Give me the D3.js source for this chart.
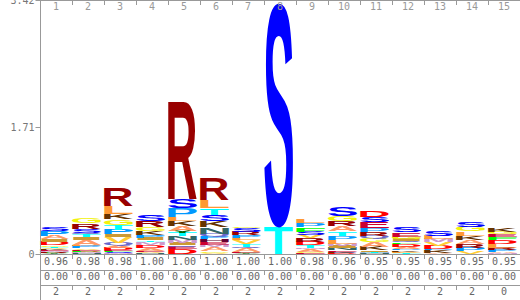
<!DOCTYPE html>
<html>
<head>
<meta charset="utf-8">
<script src="https://cdn.jsdelivr.net/npm/d3@7"></script>
<style>
  body { margin: 0; background: #fff; }
  svg { display: block; }
</style>
</head>
<body>
<svg id="logo" width="520" height="300"></svg>
<script>
// column numbers, the three rows under the logo, y-axis ticks
const positions = d3.range(1, 16);
const occupancy = ["0.96","0.98","0.98","1.00","1.00","1.00","1.00","1.00","0.98","0.96","0.95","0.95","0.95","0.95","0.95"];
const insertProb = ["0.00","0.00","0.00","0.00","0.00","0.00","0.00","0.00","0.00","0.00","0.00","0.00","0.00","0.00","0.00"];
const insertLen = ["2","2","2","2","2","2","2","2","2","2","2","2","2","2","0"];
const yTicks = [0, 1.71, 3.42];
const maxBits = 3.42;

// letter heights in bits, listed top of stack first
const col01 = [["S",.054],["P",.060],["A",.047],["I",.036],["D",.045],["G",.020],["T",.013],["V",.016],["K",.013],["E",.016],["M",.013],["R",.013],["F",.008],["Y",.007]];
const col02 = [["G",.075],["R",.067],["S",.055],["Q",.020],["T",.040],["I",.033],["A",.070],["L",.020],["P",.025],["V",.020],["E",.015],["F",.013],["D",.010],["M",.012],["N",.010]];
const col03 = [["R",.242],["L",.108],["K",.074],["G",.074],["T",.067],["P",.060],["I",.040],["V",.081],["Q",.034],["A",.027],["D",.027],["E",.020],["F",.013],["S",.013],["M",.013]];
const col04 = [["S",.090],["R",.081],["G",.054],["K",.054],["P",.040],["I",.036],["T",.020],["M",.040],["D",.040],["A",.040],["E",.020],["V",.013],["N",.011]];
const col05 = [["R",1.306],["S",.121],["P",.117],["L",.054],["K",.067],["A",.067],["Y",.027],["T",.044],["N",.044],["M",.044],["I",.034],["Q",.027],["E",.027],["D",.063]];
const col06 = [["R",.283],["L",.108],["T",.090],["S",.090],["K",.081],["N",.081],["Q",.044],["P",.032],["H",.040],["E",.040],["M",.027],["A",.054],["G",.020],["V",.019]];
const col07 = [["G",.023],["S",.047],["R",.044],["P",.040],["L",.036],["V",.054],["T",.031],["Q",.020],["A",.054],["E",.009],["F",.007],["Y",.007]];
const col08 = [["S",3.02],["T",.357]];
const col09 = [["L",.058],["P",.054],["F",.058],["S",.044],["V",.044],["R",.044],["D",.044],["T",.036],["M",.020],["A",.040],["G",.020],["E",.007]];
const col10 = [["S",.121],["G",.077],["R",.067],["A",.067],["T",.058],["P",.054],["L",.054],["M",.034],["I",.027],["N",.027],["E",.020],["K",.013],["Q",.011],["D",.007]];
const col11 = [["D",.077],["S",.067],["E",.081],["P",.054],["R",.054],["Q",.036],["G",.044],["A",.067],["K",.044],["I",.020],["T",.013],["M",.011],["N",.007]];
const col12 = [["S",.067],["E",.058],["G",.031],["I",.027],["Q",.027],["F",.020],["D",.034],["A",.027],["P",.020],["K",.016],["L",.013],["V",.011],["T",.008]];
const col13 = [["S",.077],["L",.044],["M",.044],["V",.044],["D",.044],["P",.020],["K",.031],["A",.013],["E",.004]];
const col14 = [["S",.077],["G",.063],["L",.058],["K",.058],["A",.054],["R",.054],["P",.044],["V",.036]];
const col15 = [["K",.044],["G",.036],["E",.040],["F",.036],["D",.058],["L",.044],["R",.034],["P",.027],["A",.016],["M",.009]];
const stacks = [col01,col02,col03,col04,col05,col06,col07,col08,col09,col10,col11,col12,col13,col14,col15];

const aaColors = {
  A:"#FF9966", C:"#009999", D:"#FF0000", E:"#CC0033", F:"#00FF00", G:"#f2f20c",
  H:"#660033", I:"#CC9933", K:"#663300", L:"#FF9933", M:"#CC99CC", N:"#336666",
  P:"#0099FF", Q:"#6666CC", R:"#990000", S:"#0000FF", T:"#00FFFF", V:"#FFCC33",
  W:"#66CC66", Y:"#006600"
};

const W = 520, H = 300, left = 40, base = 254;
const lineColor = "#999";
const monoFont = "'DejaVu Sans Mono', monospace";
const letterFont = "'Liberation Sans', Arial, sans-serif";

const svg = d3.select("#logo");
const x = d3.scaleBand().domain(positions).range([left, W]);
const y = d3.scaleLinear().domain([0, maxBits]).range([base, 0]);

// ink bounds of each glyph, so every letter can be stretched to its box
const ctx = document.createElement("canvas").getContext("2d");
ctx.font = `bold 100px ${letterFont}`;
const ink = {};
function glyph(ch) {
  if (!ink[ch]) {
    const m = ctx.measureText(ch);
    ink[ch] = { l: m.actualBoundingBoxLeft, r: m.actualBoundingBoxRight,
                a: m.actualBoundingBoxAscent, d: m.actualBoundingBoxDescent };
  }
  return ink[ch];
}

function draw() {
  const letters = [];
  stacks.forEach((st, i) => {
    let cum = 0;
    st.slice().reverse().forEach(([ch, h]) => {
      letters.push({ pos: positions[i], ch, y0: cum, y1: cum + h });
      cum += h;
    });
  });

  const bw = x.bandwidth() - 3;
  svg.append("g").attr("class", "letters")
    .selectAll("text").data(letters)
    .join("text")
    .text(d => d.ch)
    .attr("font-family", letterFont)
    .attr("font-weight", "bold")
    .attr("font-size", 100)
    .attr("fill", d => aaColors[d.ch])
    .attr("transform", d => {
      const g = glyph(d.ch);
      const bh = y(d.y0) - y(d.y1);
      return `translate(${x(d.pos)},${y(d.y1)}) scale(${bw / (g.l + g.r)},${bh / (g.a + g.d)}) translate(${g.l},${g.a})`;
    });

  const bounds = positions.slice(1).map(p => x(p));

  // top line with column numbers
  const top = svg.append("g");
  top.append("line").attr("x1", left).attr("x2", W).attr("y1", 0.5).attr("y2", 0.5)
    .attr("stroke", lineColor);
  top.selectAll(".tk").data(bounds).join("line").attr("class", "tk")
    .attr("x1", d => d + 0.5).attr("x2", d => d + 0.5).attr("y1", 0).attr("y2", 5)
    .attr("stroke", lineColor);
  top.selectAll("text").data(positions).join("text")
    .attr("x", d => x(d) + x.bandwidth() / 2).attr("y", 10)
    .attr("text-anchor", "middle").attr("font-family", monoFont).attr("font-size", 10)
    .attr("fill", "#999").text(d => d);

  // rows under the logo
  const rows = [
    { vals: occupancy, lineY: base, baseY: 265 },
    { vals: insertProb, lineY: 270, baseY: 280 },
    { vals: insertLen, lineY: 285, baseY: 295 }
  ];
  rows.forEach(r => {
    const g = svg.append("g");
    g.append("line").attr("x1", left).attr("x2", W).attr("y1", r.lineY + 0.5).attr("y2", r.lineY + 0.5)
      .attr("stroke", lineColor);
    g.selectAll(".tk").data(bounds).join("line").attr("class", "tk")
      .attr("x1", d => d + 0.5).attr("x2", d => d + 0.5)
      .attr("y1", r.lineY).attr("y2", r.lineY + 5).attr("stroke", lineColor);
    g.selectAll("text").data(r.vals).join("text")
      .attr("x", (d, i) => x(positions[i]) + x.bandwidth() / 2).attr("y", r.baseY)
      .attr("text-anchor", "middle").attr("font-family", monoFont).attr("font-size", 10)
      .attr("fill", "#666").text(d => d);
  });

  // y axis
  const yAxis = d3.axisLeft(y).tickValues(yTicks).tickSize(5).tickPadding(1)
    .tickFormat(d => d === 0 ? "0" : d.toFixed(2));
  const ya = svg.append("g").attr("transform", `translate(${left + 0.5},0)`).call(yAxis);
  ya.select(".domain").remove();
  ya.selectAll("line").attr("stroke", lineColor);
  ya.selectAll("text").attr("font-family", monoFont).attr("font-size", 10).attr("fill", "#777");
  svg.append("line").attr("x1", left + 0.5).attr("x2", left + 0.5).attr("y1", 0).attr("y2", H)
    .attr("stroke", lineColor);
}

if (document.fonts && document.fonts.ready) document.fonts.ready.then(draw); else draw();
</script>
</body>
</html>
